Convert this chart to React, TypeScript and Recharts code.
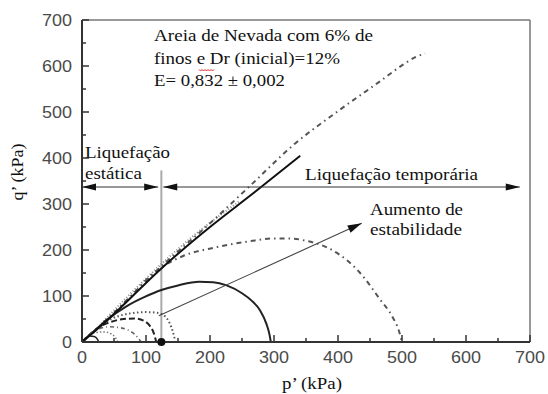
import React from 'react';
import {
  LineChart,
  Line,
  XAxis,
  YAxis,
  ReferenceLine,
  ReferenceDot,
  Customized,
} from 'recharts';

// Axis ticks (kPa); labels are printed on every hundred, small ticks on the fifties
const P_TICKS = [0, 50, 100, 150, 200, 250, 300, 350, 400, 450, 500, 550, 600, 650, 700];
const Q_TICKS = [0, 50, 100, 150, 200, 250, 300, 350, 400, 450, 500, 550, 600, 650, 700];
const TICK_LABELS: Record<number, string> = {
  0: '0', 100: '100', 200: '200', 300: '300', 400: '400', 500: '500', 600: '600', 700: '700',
};

// Instability line (solid)
const instabilityLine = [
  { p: 0, q: 0 }, { p: 40, q: 48 }, { p: 124, q: 160 }, { p: 200, q: 250 },
  { p: 270, q: 326 }, { p: 341, q: 405 },
];

// Stress path that keeps climbing (dash-dot)
const pathSteady = [
  { p: 0, q: 0 }, { p: 40, q: 50 }, { p: 130, q: 172 }, { p: 200, q: 258 },
  { p: 260, q: 336 }, { p: 330, q: 428 }, { p: 400, q: 502 }, { p: 465, q: 566 },
  { p: 505, q: 606 }, { p: 522, q: 620 }, { p: 536, q: 627 },
];

// Grey dotted trace running along the instability line
const pathAlongLine = [
  { p: 30, q: 40 }, { p: 100, q: 138 }, { p: 170, q: 226 }, { p: 245, q: 305 },
];

// Undrained paths, p'0 = 500, 300, 146, 116, 92, 56, 26 kPa
const path500 = [
  { p: 0, q: 0 }, { p: 40, q: 50 }, { p: 80, q: 105 }, { p: 106, q: 143 },
  { p: 127, q: 165 }, { p: 158, q: 187 }, { p: 210, q: 206 }, { p: 262, q: 219 },
  { p: 300, q: 225 }, { p: 325, q: 225 }, { p: 350, q: 220 }, { p: 392, q: 199 },
  { p: 434, q: 151 }, { p: 466, q: 92 }, { p: 485, q: 55 }, { p: 495, q: 25 }, { p: 500, q: 0 },
];
const path300 = [
  { p: 0, q: 0 }, { p: 20, q: 25 }, { p: 38, q: 47 }, { p: 70, q: 78 }, { p: 98, q: 98 },
  { p: 124, q: 113 }, { p: 150, q: 123 }, { p: 183, q: 131 }, { p: 205, q: 130 },
  { p: 226, q: 123 }, { p: 250, q: 106 }, { p: 265, q: 90 }, { p: 278, q: 69 },
  { p: 288, q: 40 }, { p: 293, q: 16 }, { p: 295, q: 0 },
];
const path146 = [
  { p: 0, q: 0 }, { p: 20, q: 25 }, { p: 35, q: 42 }, { p: 61, q: 58 }, { p: 80, q: 63 },
  { p: 98, q: 65 }, { p: 115, q: 64 }, { p: 124, q: 61 }, { p: 131, q: 54 },
  { p: 137, q: 41 }, { p: 142, q: 22 }, { p: 146, q: 0 },
];
const path116 = [
  { p: 0, q: 0 }, { p: 30, q: 35 }, { p: 46, q: 44 }, { p: 65, q: 50 }, { p: 82, q: 51 },
  { p: 98, q: 45 }, { p: 106, q: 35 }, { p: 112, q: 20 }, { p: 116, q: 0 },
];
const path92 = [
  { p: 0, q: 0 }, { p: 25, q: 28 }, { p: 43, q: 33 }, { p: 60, q: 31 }, { p: 72, q: 26 },
  { p: 82, q: 17 }, { p: 88, q: 8 }, { p: 92, q: 0 },
];
const path56 = [
  { p: 0, q: 0 }, { p: 20, q: 20 }, { p: 35, q: 22 }, { p: 45, q: 18 }, { p: 52, q: 10 }, { p: 56, q: 0 },
];
const path26 = [
  { p: 0, q: 0 }, { p: 5, q: 8 }, { p: 12, q: 13 }, { p: 19, q: 12 }, { p: 24, q: 6 }, { p: 26, q: 0 },
];

// Boundary between static and temporary liquefaction
const boundaryP = 124;
const boundaryTopQ = 373;
const rangeArrowQ = 337;
const staticRange = [0, 119];
const temporaryRange = [127, 684];
const stabilityArrow = [{ p: 120, q: 57 }, { p: 437, q: 258 }];

const SERIF = 'Liberation Serif';
const SANS = 'Liberation Sans';

// Annotation texts, with the printed width of each line
const NOTES = [
  { text: 'Areia de Nevada com 6% de', x: 154, y: 41, w: 219 },
  { text: 'finos e Dr (inicial)=12%', x: 154, y: 64, w: 186 },
  { text: 'E= 0,832 ± 0,002', x: 154, y: 86, w: 131 },
  { text: 'Liquefação', x: 85, y: 158, w: 85 },
  { text: 'estática', x: 85, y: 179, w: 57 },
  { text: 'Liquefação temporária', x: 305, y: 180, w: 173 },
  { text: 'Aumento de', x: 370, y: 215, w: 93 },
  { text: 'estabilidade', x: 370, y: 235, w: 92 },
];

function arrowHead(tipX: number, tipY: number, fromX: number, fromY: number, len: number, half: number) {
  const dx = tipX - fromX;
  const dy = tipY - fromY;
  const d = Math.hypot(dx, dy) || 1;
  const ux = dx / d;
  const uy = dy / d;
  const bx = tipX - ux * len;
  const by = tipY - uy * len;
  return `${tipX},${tipY} ${bx - uy * half},${by + ux * half} ${bx + uy * half},${by - ux * half}`;
}

const makeArrow = (heads: 'start' | 'end' | 'both', len: number, half: number, width: number, color: string) =>
  (props: any) => {
    const { x1, y1, x2, y2 } = props;
    return (
      <g>
        <line x1={x1} y1={y1} x2={x2} y2={y2} stroke={color} strokeWidth={width} />
        {(heads === 'end' || heads === 'both') && (
          <polygon points={arrowHead(x2, y2, x1, y1, len, half)} fill="#111" />
        )}
        {(heads === 'start' || heads === 'both') && (
          <polygon points={arrowHead(x1, y1, x2, y2, len, half)} fill="#111" />
        )}
      </g>
    );
  };

const XTick = (props: any) => {
  const { x, y, payload } = props;
  const v = payload.value as number;
  const label = TICK_LABELS[v];
  return (
    <g>
      <line x1={x} y1={y} x2={x} y2={y - (label ? 7 : 4)} stroke="#333" strokeWidth={1.5} />
      {label && (
        <text
          x={x}
          y={y + 21}
          textAnchor="middle"
          fontFamily={SANS}
          fontSize={16}
          fill="#4a4a4a"
          textLength={label.length * 10}
          lengthAdjust="spacingAndGlyphs"
        >
          {label}
        </text>
      )}
    </g>
  );
};

const YTick = (props: any) => {
  const { x, y, payload } = props;
  const v = payload.value as number;
  const label = TICK_LABELS[v];
  return (
    <g>
      <line x1={x} y1={y} x2={x + (label ? 7 : 4)} y2={y} stroke="#333" strokeWidth={1.5} />
      {label && (
        <text
          x={x - 10}
          y={y + 6}
          textAnchor="end"
          fontFamily={SANS}
          fontSize={16}
          fill="#4a4a4a"
          textLength={label.length * 10}
          lengthAdjust="spacingAndGlyphs"
        >
          {label}
        </text>
      )}
    </g>
  );
};

const Annotations = () => (
  <g>
    {NOTES.map((n) => (
      <text
        key={n.text}
        x={n.x}
        y={n.y}
        fontFamily={SERIF}
        fontSize={17}
        fill="#111"
        textLength={n.w}
        lengthAdjust="spacingAndGlyphs"
      >
        {n.text}
      </text>
    ))}
    <path
      d="M199 69.5 l1.5 1.5 l1.5 -1.5 l1.5 1.5 l1.5 -1.5 l1.5 1.5 l1.5 -1.5 l1.5 1.5 l1.5 -1.5 l1.5 1.5 l1.5 -1.5"
      stroke="#e02020"
      strokeWidth={1}
      fill="none"
    />
    <text
      transform="translate(23,172) rotate(-90)"
      textAnchor="middle"
      fontFamily={SERIF}
      fontSize={17}
      fill="#111"
      textLength={57}
      lengthAdjust="spacingAndGlyphs"
    >
      q’ (kPa)
    </text>
    <text
      x={312}
      y={389}
      textAnchor="middle"
      fontFamily={SERIF}
      fontSize={17}
      fill="#111"
      textLength={60}
      lengthAdjust="spacingAndGlyphs"
    >
      p’ (kPa)
    </text>
  </g>
);

export default function App() {
  return (
    <div style={{ position: 'absolute', left: 0, top: 0, width: 548, height: 394, background: '#fff' }}>
      <LineChart width={548} height={394} margin={{ top: 20, right: 18, bottom: 22, left: 0 }}>
        <XAxis
          type="number"
          dataKey="p"
          domain={[0, 700]}
          ticks={P_TICKS}
          interval={0}
          tickSize={0}
          tickMargin={0}
          tickLine={false}
          tick={<XTick />}
          height={30}
          axisLine={{ stroke: '#333', strokeWidth: 2 }}
          allowDuplicatedCategory={false}
        />
        <YAxis
          type="number"
          dataKey="q"
          domain={[0, 700]}
          ticks={Q_TICKS}
          interval={0}
          tickSize={0}
          tickMargin={0}
          tickLine={false}
          tick={<YTick />}
          width={82}
          axisLine={{ stroke: '#333', strokeWidth: 2 }}
        />

        {/* frame */}
        <ReferenceLine y={700} stroke="#777" strokeWidth={1.5} />
        <ReferenceLine x={700} stroke="#777" strokeWidth={1.5} />

        {/* static / temporary liquefaction boundary */}
        <ReferenceLine
          segment={[{ x: boundaryP, y: 0 }, { x: boundaryP, y: boundaryTopQ }]}
          stroke="#aaa"
          strokeWidth={2}
        />

        <Line data={pathAlongLine} dataKey="q" type="monotone" stroke="#8a8a8a" strokeWidth={2}
          strokeDasharray="1 2" dot={false} isAnimationActive={false} />
        <Line data={pathSteady} dataKey="q" type="monotone" stroke="#555" strokeWidth={2}
          strokeDasharray="5 4 1.5 4" dot={false} isAnimationActive={false} />
        <Line data={path500} dataKey="q" type="monotone" stroke="#555" strokeWidth={2}
          strokeDasharray="5 4 1.5 4" dot={false} isAnimationActive={false} />
        <Line data={path300} dataKey="q" type="monotone" stroke="#222" strokeWidth={2}
          dot={false} isAnimationActive={false} />
        <Line data={path146} dataKey="q" type="monotone" stroke="#555" strokeWidth={2}
          strokeDasharray="1.5 2.5" dot={false} isAnimationActive={false} />
        <Line data={path116} dataKey="q" type="monotone" stroke="#222" strokeWidth={2}
          strokeDasharray="6 3" dot={false} isAnimationActive={false} />
        <Line data={path92} dataKey="q" type="monotone" stroke="#666" strokeWidth={1.6}
          strokeDasharray="4 3 1 3" dot={false} isAnimationActive={false} />
        <Line data={path56} dataKey="q" type="monotone" stroke="#777" strokeWidth={1.5}
          strokeDasharray="1.5 2" dot={false} isAnimationActive={false} />
        <Line data={path26} dataKey="q" type="monotone" stroke="#222" strokeWidth={1.5}
          dot={false} isAnimationActive={false} />
        <Line data={instabilityLine} dataKey="q" type="monotone" stroke="#111" strokeWidth={2}
          dot={false} isAnimationActive={false} />

        {/* range arrows */}
        <ReferenceLine
          segment={[{ x: staticRange[0], y: rangeArrowQ }, { x: staticRange[1], y: rangeArrowQ }]}
          shape={makeArrow('both', 14, 3.5, 1.2, '#333')}
        />
        <ReferenceLine
          segment={[{ x: temporaryRange[0], y: rangeArrowQ }, { x: temporaryRange[1], y: rangeArrowQ }]}
          shape={makeArrow('both', 14, 3.5, 1.2, '#333')}
        />
        <ReferenceLine
          segment={stabilityArrow.map((d) => ({ x: d.p, y: d.q }))}
          shape={makeArrow('end', 14, 4, 1.1, '#444')}
        />

        <ReferenceDot x={boundaryP} y={0} r={4} fill="#111" stroke="none" />

        <Customized component={<Annotations />} />
      </LineChart>
    </div>
  );
}
